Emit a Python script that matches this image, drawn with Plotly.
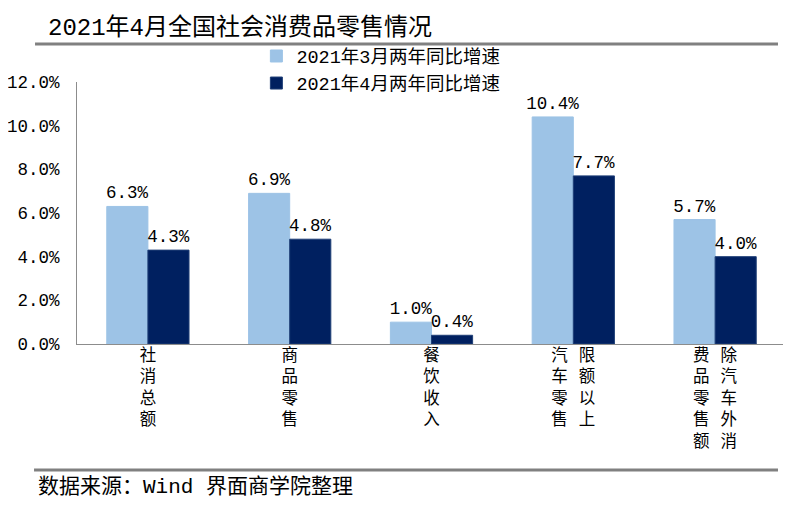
import plotly.graph_objects as go

cat_keys = ["社消总额", "商品零售", "餐饮收入", "限额以上汽车零售", "除汽车外消费品零售额"]
SP = "\u2002\u2006"
cat_ticktext = ["社<br>消<br>总<br>额", "商<br>品<br>零<br>售", "餐<br>饮<br>收<br>入",
                f"汽{SP}限<br>车{SP}额<br>零{SP}以<br>售{SP}上",
                f"费{SP}除<br>品{SP}汽<br>零{SP}车<br>售{SP}外<br>额{SP}消"]
march = [6.3, 6.9, 1.0, 10.4, 5.7]
april = [4.3, 4.8, 0.4, 7.7, 4.0]
series_names = ["2021年3月两年同比增速", "2021年4月两年同比增速"]
y_ticks = [0, 2, 4, 6, 8, 10, 12]
y_ticklabels = ["0.0%", "2.0%", "4.0%", "6.0%", "8.0%", "10.0%", "12.0%"]
title_text = "2021年4月全国社会消费品零售情况"
source_text = "数据来源：Wind 界面商学院整理"

NUM = "Liberation Mono, Noto Sans CJK SC, monospace"
CJK = "Noto Sans CJK SC, sans-serif"
MIX = "Liberation Mono, Noto Sans CJK SC, sans-serif"

fig = go.Figure()
fig.add_trace(go.Bar(
    x=cat_keys, y=march, name=series_names[0],
    marker=dict(color="#9DC3E6", line=dict(color="#9DC3E6", width=1)),
    text=[f"{v:.1f}%" for v in march], textposition="outside", constraintext="none",
    textfont=dict(size=17.5, color="#000000", family=NUM), cliponaxis=False,
))
fig.add_trace(go.Bar(
    x=cat_keys, y=april, name=series_names[1],
    marker=dict(color="#002060", line=dict(color="#1F3F77", width=1)),
    text=[f"{v:.1f}%" for v in april], textposition="outside", constraintext="none",
    textfont=dict(size=17.5, color="#000000", family=NUM), cliponaxis=False,
))

fig.update_layout(
    width=791, height=506,
    margin=dict(l=69, r=13, t=74, b=170, autoexpand=False),
    paper_bgcolor="white", plot_bgcolor="white",
    barmode="group", bargap=0.42, bargroupgap=0,
    font=dict(family=MIX, size=15, color="#000000"),
    showlegend=True,
    legend=dict(x=0.253, y=1.17, xanchor="left", yanchor="top",
                font=dict(family=MIX, size=18.5, color="#000000"),
                bgcolor="rgba(0,0,0,0)", itemwidth=30, tracegroupgap=0),
    xaxis=dict(
        tickmode="array", tickvals=cat_keys, ticktext=cat_ticktext,
        tickfont=dict(family=CJK, size=16.5, color="#000000"),
        showline=True, linecolor="#8C8C8C", linewidth=1,
        ticks="", showgrid=False, automargin=False, ticklabelstandoff=-4,
    ),
    yaxis=dict(
        range=[0, 12], tickmode="array", tickvals=y_ticks, ticktext=y_ticklabels,
        tickfont=dict(family=NUM, size=17.5, color="#000000"),
        showline=True, linecolor="#8C8C8C", linewidth=1,
        ticks="", showgrid=False, zeroline=False, ticklabelstandoff=13,
        automargin=False,
    ),
    shapes=[
        dict(type="line", xref="paper", yref="paper", x0=-0.0592, x1=0.9887,
             y0=1.145, y1=1.145, line=dict(color="#808080", width=3)),
        dict(type="line", xref="paper", yref="paper", x0=-0.0606, x1=0.9887,
             y0=-0.481, y1=-0.481, line=dict(color="#808080", width=3)),
    ],
    annotations=[
        dict(text=title_text, xref="paper", yref="paper",
             x=-0.0437, y=1.206, xanchor="left", yanchor="middle", showarrow=False,
             font=dict(family=MIX, size=24, color="#000000")),
        dict(text=source_text, xref="paper", yref="paper",
             x=-0.0578, y=-0.546, xanchor="left", yanchor="middle", showarrow=False,
             font=dict(family=MIX, size=21, color="#000000")),
    ],
)

fig.write_html("out.html")
